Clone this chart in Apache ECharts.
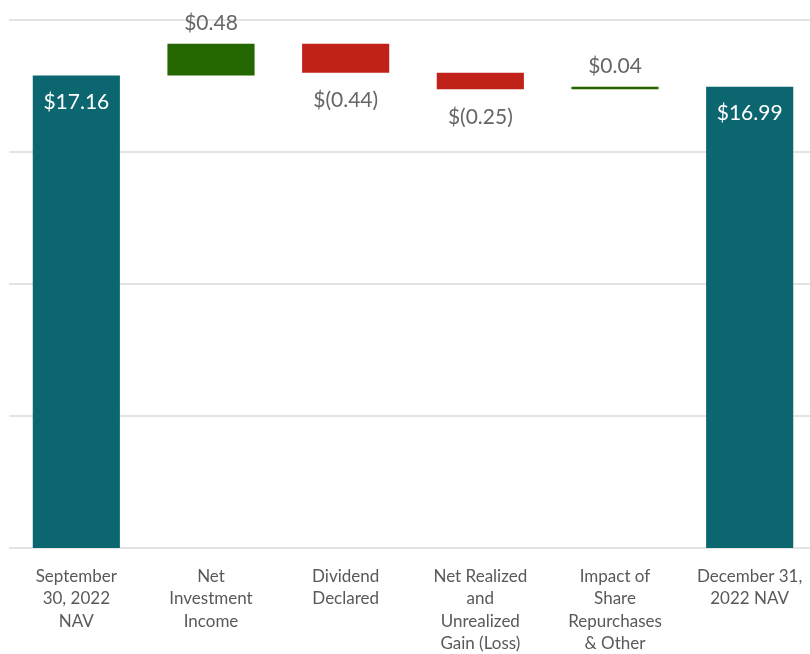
<!DOCTYPE html>
<html>
<head>
<meta charset="utf-8">
<script src="https://cdn.jsdelivr.net/npm/echarts@6/dist/echarts.min.js"></script>
<style>html,body{margin:0;padding:0;background:#fff}#c{width:810px;height:654px}</style>
</head>
<body>
<div id="c"></div>
<script>
const categories = ["September\n30, 2022\nNAV", "Net\nInvestment\nIncome", "Dividend\nDeclared", "Net Realized\nand\nUnrealized\nGain (Loss)", "Impact of\nShare\nRepurchases\n& Other", "December 31,\n2022 NAV"];
const changes = [17.16, 0.48, -0.44, -0.25, 0.04, 16.99];
const isTotal = [true, false, false, false, false, true];
const valueLabels = ["$17.16", "$0.48", "$(0.44)", "$(0.25)", "$0.04", "$16.99"];
const yTicks = [10, 12, 14, 16, 18];

const FONT = "Lato, 'Open Sans', sans-serif";
const TEAL = "#0b6670", GREEN = "#246600", RED = "#c0221a";

let running = 0;
const baseData = [], barData = [];
changes.forEach((v, i) => {
  if (isTotal[i]) {
    baseData.push(0);
    running = v;
    barData.push({
      value: v,
      itemStyle: { color: TEAL },
      label: { show: true, position: 'insideTop', distance: 16, color: '#ffffff', formatter: valueLabels[i] }
    });
  } else {
    const lo = v >= 0 ? running : running + v;
    baseData.push(+lo.toFixed(4));
    running = +(running + v).toFixed(4);
    barData.push({
      value: Math.abs(v),
      itemStyle: { color: v >= 0 ? GREEN : RED },
      label: { show: true, position: v >= 0 ? 'top' : 'bottom', distance: v >= 0 ? 10 : 17, color: '#666666', formatter: valueLabels[i] }
    });
  }
});

const chart = echarts.init(document.getElementById('c'), null, { renderer: 'canvas' });
chart.setOption({
  animation: false,
  backgroundColor: '#ffffff',
  grid: { left: 9, right: -7, top: 20, bottom: 106, containLabel: false, outerBoundsMode: 'none' },
  xAxis: {
    type: 'category',
    data: categories,
    axisLine: { show: false },
    axisTick: { show: false },
    axisLabel: { interval: 0, color: '#595959', fontFamily: FONT, fontSize: 17, lineHeight: 22.5, margin: 17 }
  },
  yAxis: {
    type: 'value',
    min: yTicks[0],
    max: yTicks[yTicks.length - 1],
    interval: 2,
    axisLabel: { show: false },
    axisLine: { show: false },
    axisTick: { show: false },
    splitLine: { show: true, lineStyle: { color: '#e4e4e4', width: 2 } }
  },
  series: [
    { type: 'bar', stack: 'w', data: baseData, itemStyle: { color: 'transparent' }, barWidth: '64.7%', silent: true },
    { type: 'bar', stack: 'w', data: barData, barWidth: '64.7%', label: { fontFamily: FONT, fontSize: 21 } }
  ]
});
</script>
</body>
</html>
